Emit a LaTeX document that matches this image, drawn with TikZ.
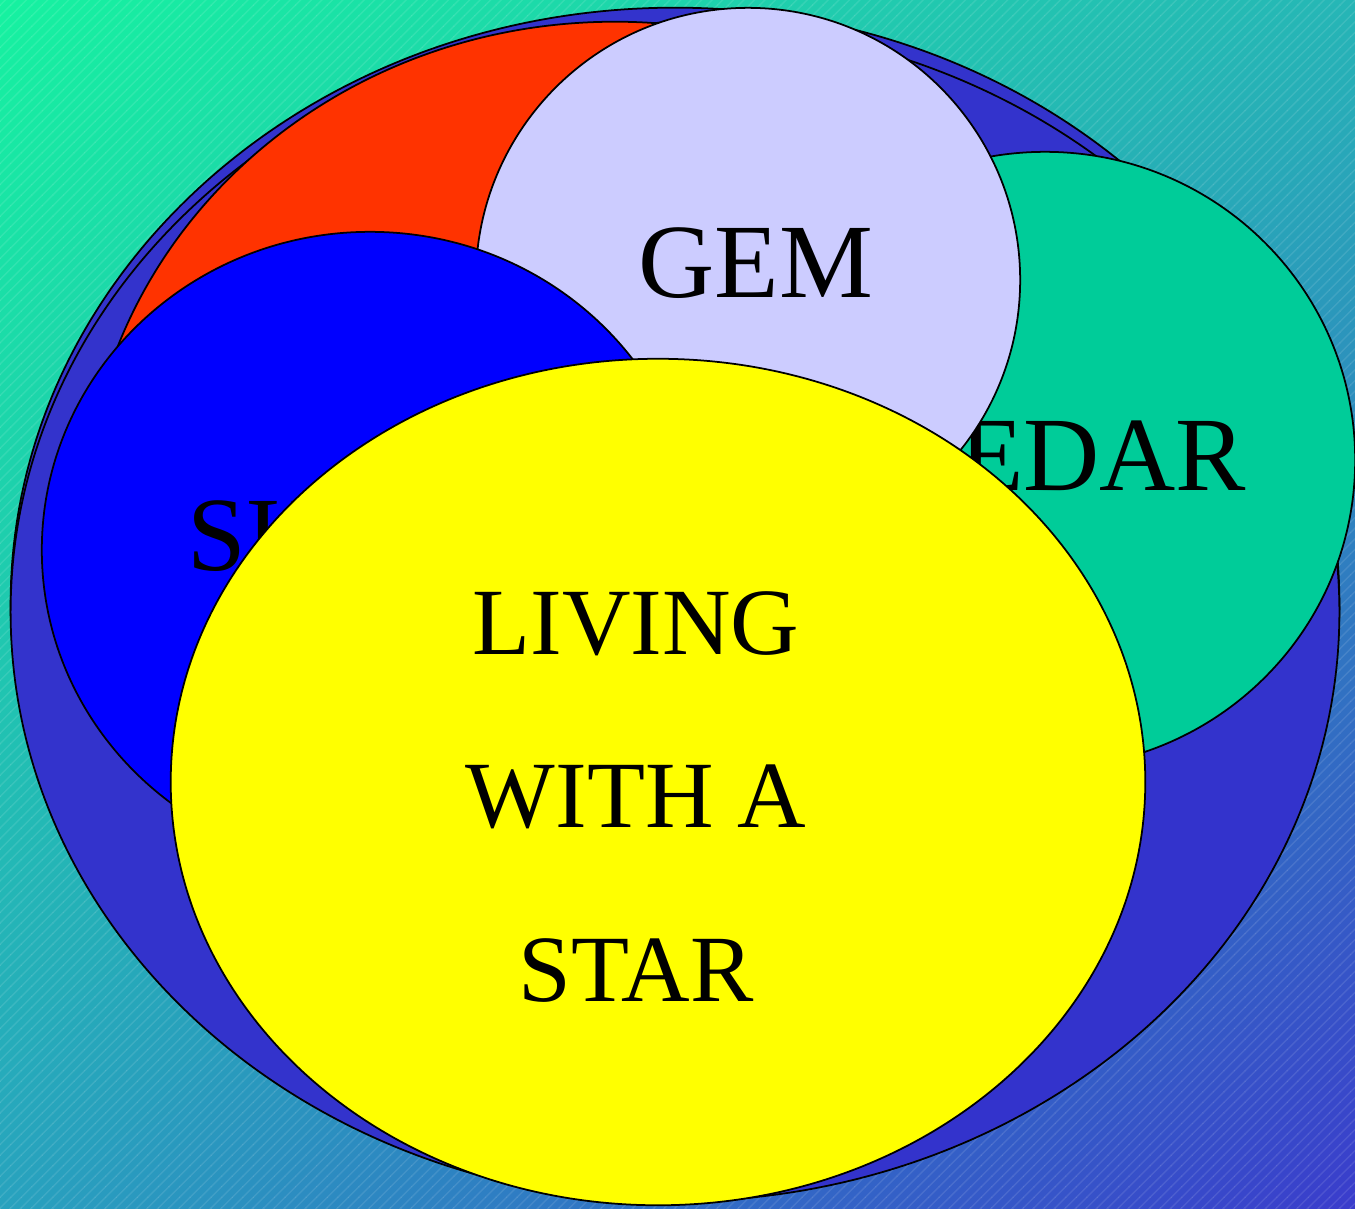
\documentclass[tikz,border=0pt]{standalone}
\usepackage{fontspec}
\setmainfont{Liberation Serif}
\usepackage{tikz}
\usetikzlibrary{shapes.geometric,patterns,shadings}
\definecolor{bgteal}{RGB}{22,242,160}
\definecolor{bgsea}{RGB}{38,182,182}
\definecolor{bgsky}{RGB}{40,162,190}
\definecolor{bgblue}{RGB}{58,60,204}
\definecolor{rimblue}{RGB}{51,51,204}
\definecolor{redarc}{RGB}{255,51,0}
\definecolor{gemlav}{RGB}{204,204,255}
\definecolor{cedargreen}{RGB}{0,204,153}
\definecolor{shineblue}{RGB}{0,0,255}
\definecolor{lwsyellow}{RGB}{255,255,0}
\tikzset{
  blob/.style={ellipse, draw=black, line width=0.5pt, inner sep=0pt, fill=#1},
  bigtext/.style={font=\fontsize{30}{36}\selectfont, inner sep=0pt},
  lwstext/.style={font=\fontsize{27}{49.4}\selectfont, align=center, inner sep=0pt},
}

\begin{document}
\begin{tikzpicture}[x=0.01cm,y=-0.01cm]
  \useasboundingbox (0,0) rectangle (1355,1208);

  % Background (gradient with faint stripes)
  \shade[upper left=bgteal, upper right=bgsea, lower left=bgsky, lower right=bgblue]
    (0,0) rectangle (1355,1208);
  \fill[pattern=north east lines, pattern color=white, opacity=0.1] (0,0) rectangle (1355,1208);

  % Outer rims
  \node[blob=rimblue, minimum width=13.28cm, minimum height=11.92cm] (rim) at (675,604) {};
  \node[blob=rimblue, minimum width=13.28cm, minimum height=11.78cm] (rimin) at (675,612) {};
  \node[blob=redarc, minimum width=10.6cm, minimum height=9.96cm] (redback) at (615,520) {};

  % CEDAR, GEM, SHINE
  \node[blob=cedargreen, minimum width=6.2cm, minimum height=6.16cm] (cedar) at (1045,460) {};
  \node[bigtext, anchor=base east] (cedartxt) at (1247,490) {CEDAR};
  \node[blob=gemlav, minimum size=5.44cm] (gem) at (748,280) {};
  \node[bigtext, anchor=base] (gemtxt) at (756,297) {GEM};
  \node[blob=shineblue, minimum width=6.56cm, minimum height=6.36cm] (shine) at (370,550) {};
  \node[bigtext, anchor=base west] (shinetxt) at (187,570) {SHINE};

  % Living With a Star on top
  \node[blob=lwsyellow, minimum width=9.74cm, minimum height=8.46cm] (lws) at (658,782) {};
  \node[lwstext] (lwstxt) at (636,797) {LIVING\\WITH A\\STAR};
\end{tikzpicture}
\end{document}
